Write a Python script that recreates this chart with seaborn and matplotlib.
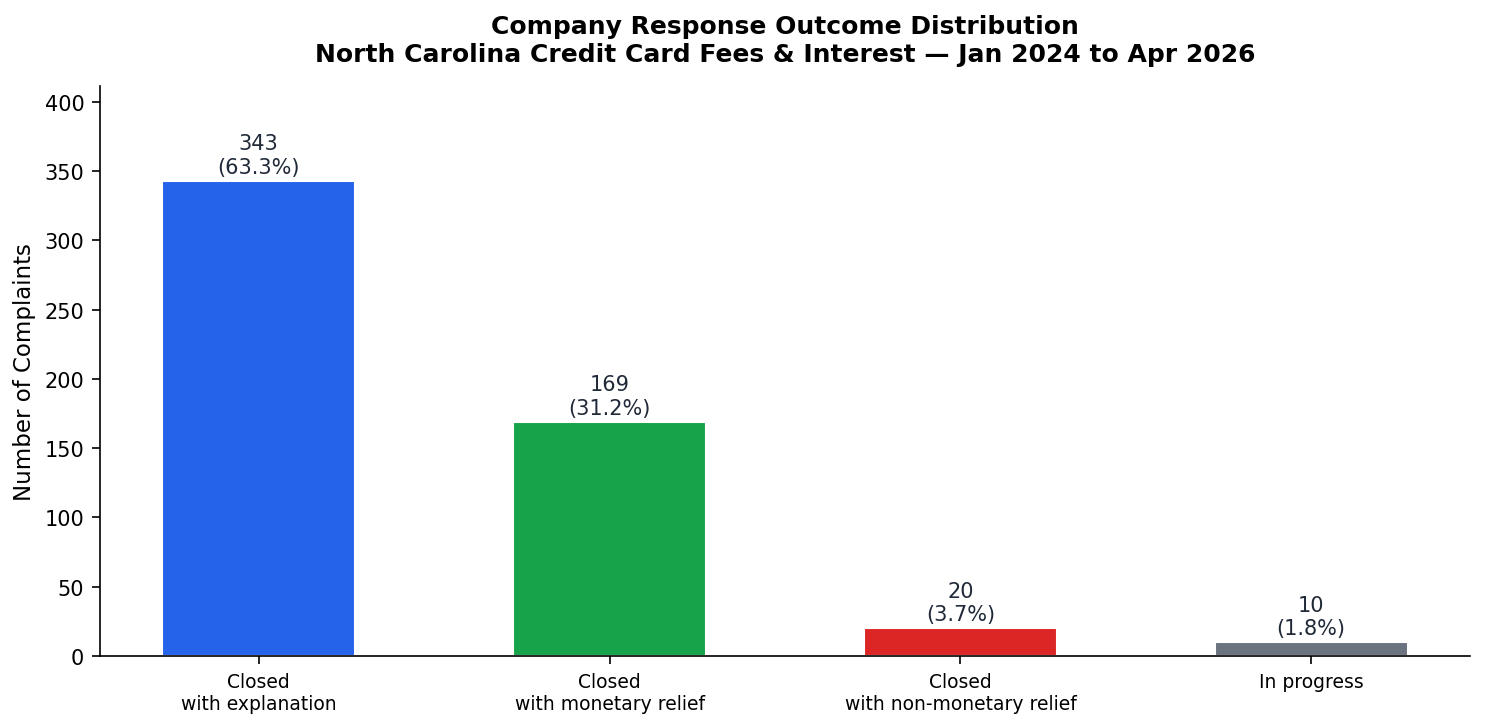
import seaborn as sns
import matplotlib.pyplot as plt
import pandas as pd

# outcome categories and counts
outcomes = ["Closed\nwith explanation", "Closed\nwith monetary relief",
            "Closed\nwith non-monetary relief", "In progress"]
counts = [343, 169, 20, 10]
percents = [63.3, 31.2, 3.7, 1.8]
colors = ["#2563eb", "#16a34a", "#dc2626", "#6b7280"]

df = pd.DataFrame({"outcome": outcomes, "count": counts})

sns.set_style("white", {"axes.edgecolor": "black", "text.color": "black",
                        "axes.labelcolor": "black", "xtick.color": "black",
                        "ytick.color": "black"})
fig, ax = plt.subplots(figsize=(9.9, 4.853), dpi=150)

sns.barplot(data=df, x="outcome", y="count", hue="outcome", palette=colors,
            width=0.55, legend=False, ax=ax, saturation=1)

# value labels above bars
for i, (c, p) in enumerate(zip(counts, percents)):
    ax.annotate(f"{c}\n({p}%)", (i, c), xytext=(0, 2), textcoords="offset points",
                ha="center", va="bottom", fontsize=10, color="#1f2937")

ax.set_xlim(-0.4525, 3.4525)
ax.set_ylim(0, max(counts) * 1.2)
ax.set_xlabel("")
ax.set_ylabel("Number of Complaints", fontsize=11)
ax.tick_params(axis="x", labelsize=9, length=4, bottom=True)
ax.tick_params(axis="y", labelsize=10, length=4, left=True)
ax.set_title("Company Response Outcome Distribution\n"
             "North Carolina Credit Card Fees & Interest \u2014 Jan 2024 to Apr 2026",
             fontsize=12, fontweight="bold", pad=12)
sns.despine(ax=ax)

fig.subplots_adjust(left=0.0673, right=0.9899, top=0.8808, bottom=0.0975)
plt.savefig("out.png", dpi=150)
